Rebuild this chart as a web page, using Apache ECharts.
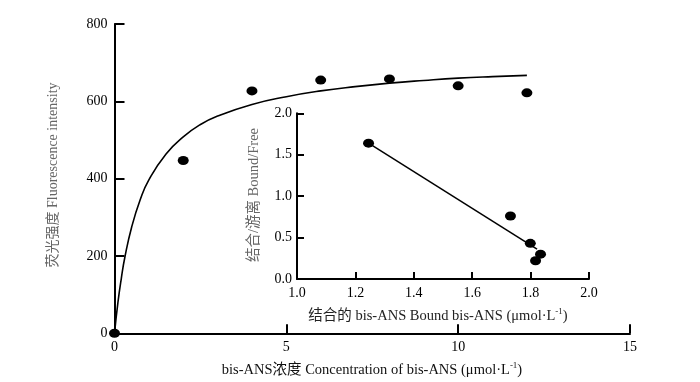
<!DOCTYPE html>
<html><head><meta charset="utf-8">
<script src="https://cdn.jsdelivr.net/npm/echarts@6/dist/echarts.min.js"></script>
<style>html,body{margin:0;padding:0;background:#fff}#c{width:700px;height:382px}</style>
</head><body><div id="c"></div>
<script>
// Main plot: measured points
const mainX = [0, 2, 4, 6, 8, 10, 12];
const mainY = [0, 447, 627, 655, 658, 640, 622];
// Main plot: fitted saturation curve
const curveX = [0, 0.1, 0.2, 0.3, 0.5, 0.75, 1, 1.5, 2, 2.5, 3, 4, 5, 6, 7, 8, 9, 10, 11, 12];
const curveY = [0, 80, 143, 196, 275, 346, 397, 464, 508, 540, 562, 592, 612, 627, 638, 647, 654, 660, 664, 667];
// Inset (Scatchard): points
const insetX = [1.245, 1.731, 1.799, 1.834, 1.817];
const insetY = [1.64, 0.76, 0.43, 0.30, 0.22];
// Inset regression line end points
const lineX = [1.245, 1.822];
const lineY = [1.64, 0.36];
// tick labels
const mainXTicks = ['0', '5', '10', '15'];
const mainYTicks = ['0', '200', '400', '600', '800'];
const insetXTicks = ['1.0', '1.2', '1.4', '1.6', '1.8', '2.0'];
const insetYTicks = ['0.0', '0.5', '1.0', '1.5', '2.0'];

const FONT = "'Liberation Serif', 'Noto Sans CJK SC', serif";
const TICK_FS = 14;
const NAME_FS = 14.5;
const zip = (a, b) => a.map((v, i) => [v, b[i]]);

function axis(extra, tickLen, margin, fmt) {
  return Object.assign({
    type: 'value',
    axisLine: { show: true, onZero: false, lineStyle: { color: '#000', width: 2 } },
    axisTick: { show: true, inside: true, length: tickLen, lineStyle: { color: '#000', width: 2 } },
    axisLabel: { color: '#000', fontFamily: FONT, fontSize: TICK_FS, margin: margin, formatter: fmt },
    splitLine: { show: false }
  }, extra);
}

const chart = echarts.init(document.getElementById('c'), null, { renderer: 'canvas' });
chart.setOption({
  animation: false,
  backgroundColor: '#fff',
  grid: [
    { left: 114.5, top: 24, width: 515.5, height: 309.3 },
    { left: 297, top: 113.3, width: 292, height: 165.7 }
  ],
  xAxis: [
    axis({ gridIndex: 0, min: 0, max: 15, interval: 5 }, 9, 7, v => mainXTicks[Math.round(v / 5)]),
    axis({ gridIndex: 1, min: 1.0, max: 2.0, interval: 0.2 }, 7, 7, v => insetXTicks[Math.round((v - 1) / 0.2)])
  ],
  yAxis: [
    axis({ gridIndex: 0, min: 0, max: 800, interval: 200 }, 10, 7, v => mainYTicks[Math.round(v / 200)]),
    axis({ gridIndex: 1, min: 0, max: 2, interval: 0.5 }, 7, 5, v => insetYTicks[Math.round(v / 0.5)])
  ],
  series: [
    { type: 'line', xAxisIndex: 0, yAxisIndex: 0, data: zip(curveX, curveY), smooth: true,
      showSymbol: false, lineStyle: { color: '#000', width: 1.6 }, z: 2 },
    { type: 'scatter', xAxisIndex: 0, yAxisIndex: 0, data: zip(mainX, mainY), symbolSize: [11, 9],
      itemStyle: { color: '#000', opacity: 1 }, z: 5 },
    { type: 'line', xAxisIndex: 1, yAxisIndex: 1, data: zip(lineX, lineY), showSymbol: false,
      lineStyle: { color: '#000', width: 1.5 }, z: 2 },
    { type: 'scatter', xAxisIndex: 1, yAxisIndex: 1, data: zip(insetX, insetY), symbolSize: [11, 9],
      itemStyle: { color: '#000', opacity: 1 }, z: 5 }
  ],
  graphic: [
    { type: 'text', x: 372, y: 370, style: {
        text: '{a|bis-ANS浓度 Concentration of bis-ANS (μmol·L}{s|-1}{a|)}',
        align: 'center', verticalAlign: 'middle',
        rich: { a: { fontFamily: FONT, fontSize: NAME_FS, fill: '#111' },
                s: { fontFamily: FONT, fontSize: 9, fill: '#111', padding: [0, 0, 8, 0] } } } },
    { type: 'text', x: 438, y: 316, style: {
        text: '{a|结合的 bis-ANS Bound bis-ANS (μmol·L}{s|-1}{a|)}',
        align: 'center', verticalAlign: 'middle',
        rich: { a: { fontFamily: FONT, fontSize: NAME_FS, fill: '#222' },
                s: { fontFamily: FONT, fontSize: 9, fill: '#222', padding: [0, 0, 8, 0] } } } },
    { type: 'text', x: 53, y: 175, rotation: Math.PI / 2, style: {
        text: '荧光强度 Fluorescence intensity', align: 'center', verticalAlign: 'middle',
        font: "14px " + FONT, fill: '#666' } },
    { type: 'text', x: 254, y: 195, rotation: Math.PI / 2, style: {
        text: '结合/游离 Bound/Free', align: 'center', verticalAlign: 'middle',
        font: NAME_FS + "px " + FONT, fill: '#666' } }
  ]
});
</script></body></html>
